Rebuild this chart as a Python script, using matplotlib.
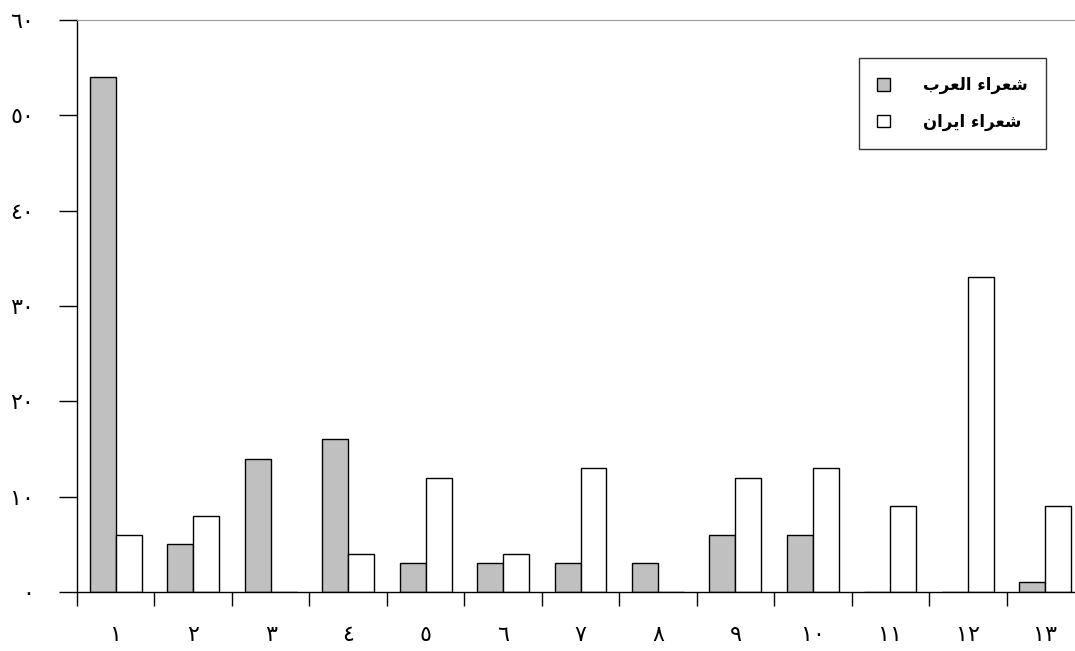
import numpy as np
import matplotlib.pyplot as plt

# values
categories = ['١', '٢', '٣', '٤', '٥', '٦', '٧', '٨', '٩', '١٠', '١١', '١٢', '١٣']
arab_poets = [54, 5, 14, 16, 3, 3, 3, 3, 6, 6, 0, 0, 1]
iran_poets = [6, 8, 0, 4, 12, 4, 13, 0, 12, 13, 9, 33, 9]
y_ticks = [0, 10, 20, 30, 40, 50, 60]
y_tick_labels = ['٠', '١٠', '٢٠', '٣٠', '٤٠', '٥٠', '٦٠']

# legend texts, shaped with presentation forms and in visual order
# (matplotlib does no Arabic shaping itself)
arab_label = '\uFE8F\uFEAE\uFECC\uFEDF\uFE8D \uFE80\uFE8D\uFEAE\uFECC\uFEB7'  # شعراء العرب
iran_label = '\uFEE5\uFE8D\uFEAE\uFEF3\uFE8D \uFE80\uFE8D\uFEAE\uFECC\uFEB7'  # شعراء ايران

plt.rcParams['font.family'] = ['DejaVu Sans']

fig = plt.figure(figsize=(10.75, 6.51), dpi=100)
ax = fig.add_axes([77 / 1075, 1 - 592 / 651, (1084 - 77) / 1075, (592 - 20) / 651])

x = np.arange(len(categories))
w = 0.335
ax.bar(x - w / 2, arab_poets, w, color='#C0C0C0', edgecolor='black', linewidth=1,
       label=arab_label)
ax.bar(x + w / 2, iran_poets, w, color='white', edgecolor='black', linewidth=1,
       label=iran_label)

ax.set_xlim(-0.5, len(categories) - 0.5)
ax.set_ylim(0, 60)

# y axis
ax.set_yticks(y_ticks)
ax.set_yticklabels(y_tick_labels, fontsize=16)
ax.tick_params(axis='y', direction='out', length=13, width=1, pad=18, color='black')

# x axis: ticks on category borders, labels at centres
ax.set_xticks(np.arange(len(categories) + 1) - 0.5)
ax.set_xticklabels([])
ax.tick_params(axis='x', which='major', direction='out', length=10, width=1)
ax.set_xticks(x, minor=True)
ax.set_xticklabels(categories, minor=True, fontsize=16)
ax.tick_params(axis='x', which='minor', length=0, pad=24)

ax.spines['right'].set_visible(False)
ax.spines['top'].set_color('#999999')
ax.spines['left'].set_linewidth(1)
ax.spines['bottom'].set_linewidth(1)

leg = ax.legend(loc='upper right', bbox_to_anchor=(1046 / 1075, 1 - 58 / 651),
                bbox_transform=fig.transFigure, frameon=True, fancybox=False,
                edgecolor='black', prop={'weight': 'bold', 'size': 12},
                handlelength=0.75, handleheight=0.75, handletextpad=2.0,
                borderpad=1.1, labelspacing=1.1, borderaxespad=0)
leg.get_frame().set_linewidth(1)
for h in leg.legend_handles:
    h.set_linewidth(1)

fig.savefig('out.png', dpi=100)
